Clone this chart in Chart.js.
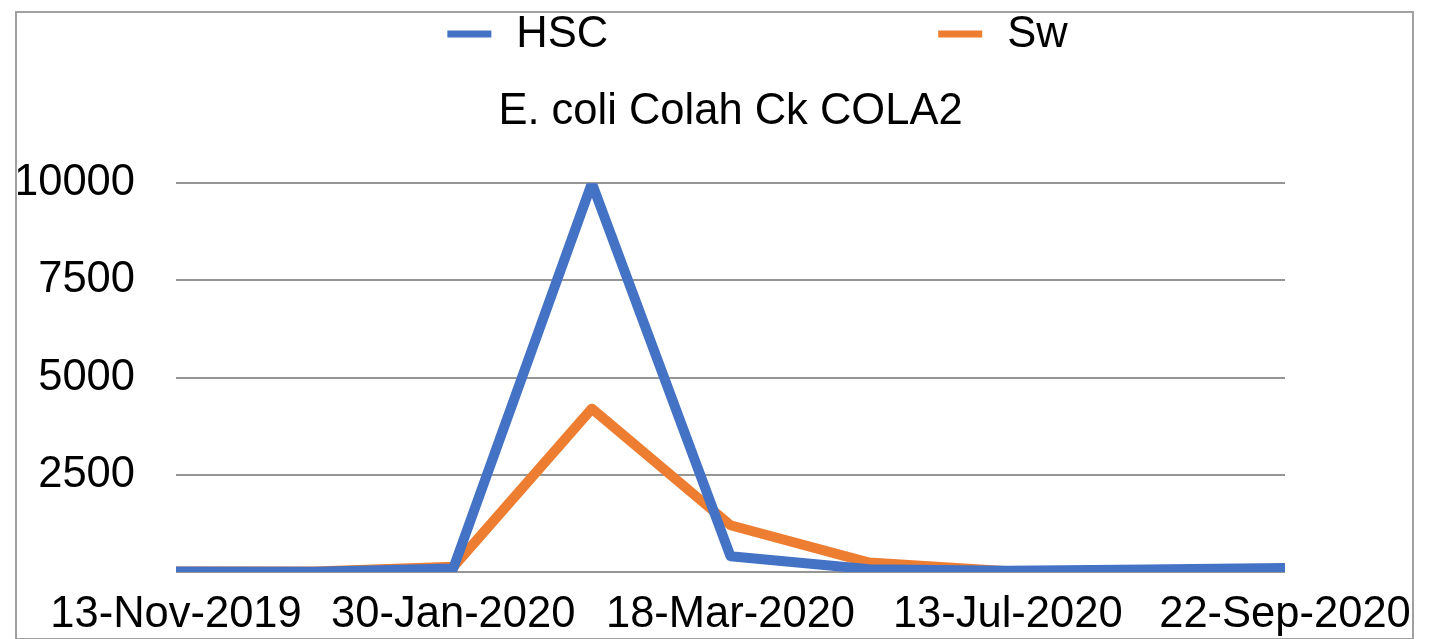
<!DOCTYPE html>
<html>
<head>
<meta charset="utf-8">
<title>E. coli Colah Ck COLA2</title>
<script src="https://cdn.jsdelivr.net/npm/chart.js@4.4.1/dist/chart.umd.min.js"></script>
<style>
  html, body { margin: 0; padding: 0; background: #ffffff; }
  #wrap { position: relative; width: 1446px; height: 639px; overflow: hidden; }
  #frame {
    position: absolute; left: 15px; top: 11px; width: 1399px; height: 629px;
    box-sizing: border-box; border: 2px solid #a0a0a0; pointer-events: none;
  }
  canvas { position: absolute; left: 0; top: 0; }
</style>
</head>
<body>
<div id="wrap">
  <canvas id="chart" width="1446" height="639"></canvas>
  <div id="frame"></div>
</div>
<script>
// Sampling dates (every other one is shown on the axis)
const sampleDates = [
  '13-Nov-2019', '11-Dec-2019', '30-Jan-2020', '26-Feb-2020', '18-Mar-2020',
  '13-May-2020', '13-Jul-2020', '18-Aug-2020', '22-Sep-2020'
];

// E. coli counts per sample
const hscValues = [10, 5, 90, 10000, 400, 70, 30, 60, 100];
const swValues  = [10, 10, 130, 4200, 1200, 240, 20, 10, 5];

// Value axis
const yMin = 0;
const yMax = 10000;
const yStep = 2500;

const chartTitle = 'E. coli Colah Ck COLA2';
const seriesNames = ['HSC', 'Sw'];
const seriesColors = ['#4472C4', '#ED7D31'];

const FONT = "'Liberation Sans', Arial, Helvetica, sans-serif";
const FONT_SIZE = 43.5;

// Legend row drawn above the title: short line swatch + name, wide gap between entries
const topLegend = {
  id: 'topLegend',
  afterDraw(chart) {
    const ctx = chart.ctx;
    const swatchW = 44, swatchH = 7, textGap = 25, itemGap = 330, y = 34;
    ctx.save();
    ctx.font = FONT_SIZE + 'px ' + FONT;
    ctx.textBaseline = 'middle';
    ctx.textAlign = 'left';
    const items = chart.data.datasets.map(ds => ({
      text: ds.label, color: ds.borderColor,
      w: swatchW + textGap + ctx.measureText(ds.label).width
    }));
    const total = items.reduce((s, it) => s + it.w, 0) + itemGap * (items.length - 1);
    const area = chart.chartArea;
    const center = (area.left + area.right) / 2 + 27;
    let x = center - total / 2;
    items.forEach(it => {
      ctx.fillStyle = it.color;
      ctx.fillRect(x, y - swatchH / 2, swatchW, swatchH);
      ctx.fillStyle = '#000000';
      ctx.fillText(it.text, x + swatchW + textGap, y + 1);
      x += it.w + itemGap;
    });
    ctx.restore();
  }
};

const ctx = document.getElementById('chart').getContext('2d');
new Chart(ctx, {
  type: 'line',
  data: {
    labels: sampleDates,
    datasets: [
      {
        label: seriesNames[0],
        data: hscValues,
        borderColor: seriesColors[0],
        backgroundColor: seriesColors[0],
        borderWidth: 10,
        borderJoinStyle: 'round',
        borderCapStyle: 'butt',
        pointRadius: 0,
        tension: 0,
        fill: false
      },
      {
        label: seriesNames[1],
        data: swValues,
        borderColor: seriesColors[1],
        backgroundColor: seriesColors[1],
        borderWidth: 10,
        borderJoinStyle: 'round',
        borderCapStyle: 'butt',
        pointRadius: 0,
        tension: 0,
        fill: false
      }
    ]
  },
  options: {
    responsive: false,
    animation: false,
    layout: { padding: { left: 18, right: 3, top: 0, bottom: 0 } },
    plugins: {
      legend: { display: false },
      tooltip: { enabled: false },
      title: {
        display: true,
        text: chartTitle,
        color: '#000000',
        font: { family: FONT, size: FONT_SIZE, weight: 'normal', lineHeight: 1.2 },
        padding: { top: 86, bottom: 45 }
      }
    },
    scales: {
      x: {
        offset: false,
        grid: { display: false, drawTicks: false },
        border: { display: false },
        ticks: {
          color: '#000000',
          font: { family: FONT, size: FONT_SIZE },
          padding: 17,
          maxRotation: 0,
          minRotation: 0,
          autoSkip: true,
          autoSkipPadding: 10
        },
        afterFit(scale) { scale.height = 67; }
      },
      y: {
        min: yMin,
        max: yMax,
        grid: { color: '#959595', lineWidth: 2, drawTicks: false },
        border: { display: false },
        ticks: {
          stepSize: yStep,
          color: '#000000',
          font: { family: FONT, size: FONT_SIZE },
          padding: 41,
          callback: v => (v === 0 ? '' : String(v))
        },
        afterFit(scale) { scale.width = 158; }
      },
      balance: {
        type: 'linear',
        position: 'right',
        display: true,
        grid: { display: false, drawTicks: false },
        border: { display: false },
        ticks: { display: false },
        afterFit(scale) { scale.width = 158; }
      }
    }
  },
  plugins: [topLegend]
});
</script>
</body>
</html>
